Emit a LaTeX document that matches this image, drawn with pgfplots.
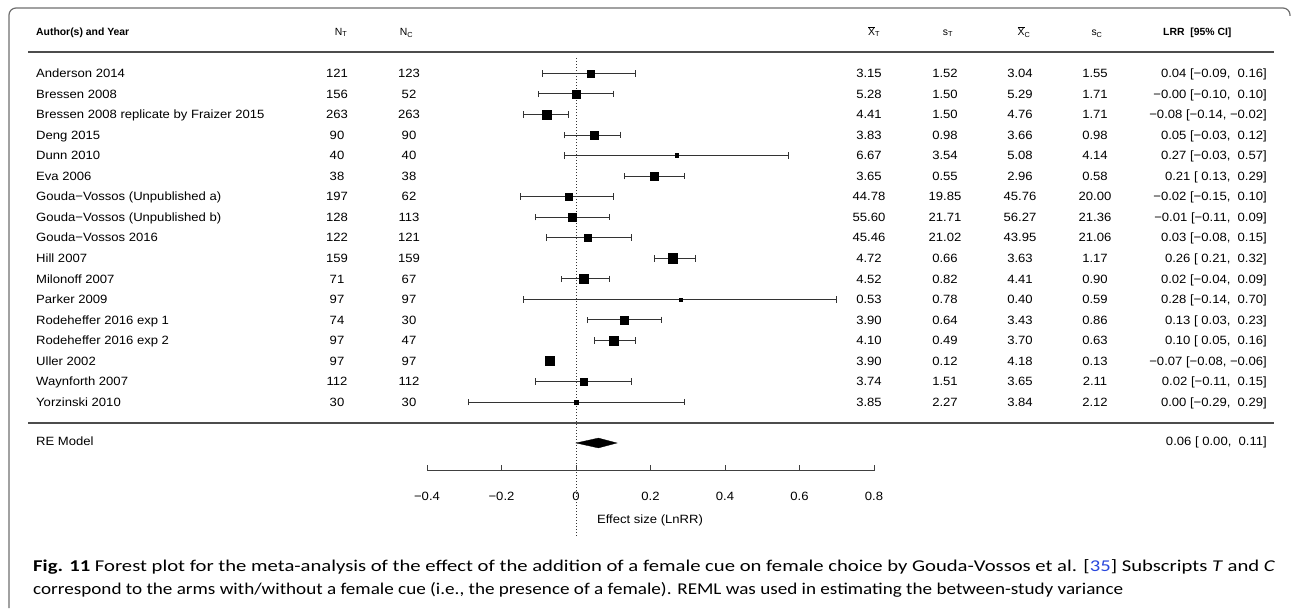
\documentclass[border=0pt]{standalone}
\usepackage{pgfplots}
\usepackage{pgfplotstable}
\pgfplotsset{compat=1.18}
\usepackage{amsmath}
\usepackage{graphicx}
\usepackage{fontspec}
\setmainfont{Liberation Sans}[FakeStretch=1.09]
\newfontfamily\hdrfont{Liberation Sans}
\newfontfamily\capfont{Carlito}
\definecolor{linkblue}{RGB}{40,70,220}
\definecolor{framegray}{RGB}{110,110,110}

% estimate, 95% CI and square half-size (pt) for each study row
\pgfplotstableread{
row est lo hi sz
1 0.04 -0.09 0.16 3.6
2 -0.00 -0.10 0.10 4.0
3 -0.08 -0.14 -0.02 4.5
4 0.05 -0.03 0.12 4.0
5 0.27 -0.03 0.57 1.9
6 0.21 0.13 0.29 4.0
7 -0.02 -0.15 0.10 3.5
8 -0.01 -0.11 0.09 4.0
9 0.03 -0.08 0.15 3.5
10 0.26 0.21 0.32 4.7
11 0.02 -0.04 0.09 4.5
12 0.28 -0.14 0.70 1.5
13 0.13 0.03 0.23 4.2
14 0.10 0.05 0.16 4.5
15 -0.07 -0.08 -0.06 4.5
16 0.02 -0.11 0.15 3.5
17 0.00 -0.29 0.29 2.0
}\studies

\newsavebox\capA
\newsavebox\capB

\newcommand\studyrow[9]{%
  \pgfmathsetmacro\yb{73.3+(#1-1)*20.55+4.3}
  \node[anchor=base west] at (36,\yb) {#2};
  \node[anchor=base] at (337,\yb) {#3};
  \node[anchor=base] at (409,\yb) {#4};
  \node[anchor=base] at (869,\yb) {#5};
  \node[anchor=base] at (945,\yb) {#6};
  \node[anchor=base] at (1020,\yb) {#7};
  \node[anchor=base] at (1095,\yb) {#8};
  \node[anchor=base east] at (1267,\yb) {#9};
}

\begin{document}
\sbox\capA{\capfont\fontsize{16.5}{19}\selectfont\textbf{Fig. 11} Forest plot for the meta-analysis of the effect of the addition of a female cue on female choice by Gouda-Vossos et al. [{\color{linkblue}35}] Subscripts \textit{T} and \textit{C}}%
\sbox\capB{\capfont\fontsize{16.5}{19}\selectfont correspond to the arms with/without a female cue (i.e., the presence of a female). REML was used in estimating the between-study variance}%
\pgfmathsetmacro\capscaleA{1242/(\the\wd\capA)}%
\pgfmathsetmacro\capscaleB{1090/(\the\wd\capB)}%
\begin{tikzpicture}[font=\fontsize{12}{14}\selectfont, every node/.style={inner sep=0pt}]
\begin{axis}[
    name=main,
    scale only axis,
    width=1292pt, height=608pt,
    xmin=-1.5463, xmax=1.9221,
    ymin=-2.567, ymax=27.02,
    y dir=reverse,
    hide axis,
    clip=false,
]
% confidence intervals
\addplot[draw=none, mark=none, forget plot,
    error bars/.cd, x dir=both, x explicit, error mark=|,
    error bar style={draw=black!80, line width=0.9pt, solid},
    error mark options={draw=black!80, line width=0.9pt, mark size=3.3pt}]
    table[x=est, y=row,
          x error plus expr=\thisrow{hi}-\thisrow{est},
          x error minus expr=\thisrow{est}-\thisrow{lo}] {\studies};
% weighted squares
\addplot[scatter, only marks, mark=square*,
    scatter/use mapped color={draw=black, fill=black},
    visualization depends on={\thisrow{sz} \as \msz},
    scatter/@pre marker code/.append style={/tikz/mark size=\msz, /tikz/line width=0.2pt}]
    table[x=est, y=row] {\studies};
% RE model diamond
\addplot[fill=black, draw=black, line width=0.3pt] coordinates
    {(0.00,18.99) (0.06,18.75) (0.11,18.99) (0.06,19.23)} -- cycle;
% reference line at zero
\draw[black!80, line width=0.8pt, dash pattern=on 0.8pt off 2.2pt]
    (axis cs:0,0.26) -- (axis cs:0,23.61);
\end{axis}

\begin{scope}[shift={(main.north west)}, x=1pt, y=-1pt]
\path (0,0) rectangle (1292,608);
% frame
\draw[framegray, line width=1.2pt, rounded corners=7pt]
    (9,608) -- (9,8) -- (1290,8) -- (1290,16);
% header
\begin{scope}[font=\hdrfont\fontsize{10.4}{12}\selectfont]
\node[anchor=base west] at (36,35.4) {\textbf{Author(s) and Year}};
\node[anchor=base] at (341,35.4) {N\textsubscript{T}};
\node[anchor=base] at (406.5,35.4) {N\textsubscript{C}};
\node[anchor=base] at (874,35.4) {$\overline{\text{X}}$\textsubscript{T}};
\node[anchor=base] at (948,35.4) {s\textsubscript{T}};
\node[anchor=base] at (1024,35.4) {$\overline{\text{X}}$\textsubscript{C}};
\node[anchor=base] at (1097,35.4) {s\textsubscript{C}};
\node[anchor=base west] at (1163,35.4) {\textbf{LRR\ \ [95\% CI]}};
\end{scope}
\draw[black!70, line width=1.2pt] (28,52) -- (1274,52);
\draw[black!70, line width=1.2pt] (28,423) -- (1274,423);

\studyrow{1}{Anderson 2014}{121}{123}{3.15}{1.52}{3.04}{1.55}{0.04 [−0.09,\ \ 0.16]}
\studyrow{2}{Bressen 2008}{156}{52}{5.28}{1.50}{5.29}{1.71}{−0.00 [−0.10,\ \ 0.10]}
\studyrow{3}{Bressen 2008 replicate by Fraizer 2015}{263}{263}{4.41}{1.50}{4.76}{1.71}{−0.08 [−0.14, −0.02]}
\studyrow{4}{Deng 2015}{90}{90}{3.83}{0.98}{3.66}{0.98}{0.05 [−0.03,\ \ 0.12]}
\studyrow{5}{Dunn 2010}{40}{40}{6.67}{3.54}{5.08}{4.14}{0.27 [−0.03,\ \ 0.57]}
\studyrow{6}{Eva 2006}{38}{38}{3.65}{0.55}{2.96}{0.58}{0.21 [\ 0.13,\ \ 0.29]}
\studyrow{7}{Gouda−Vossos (Unpublished a)}{197}{62}{44.78}{19.85}{45.76}{20.00}{−0.02 [−0.15,\ \ 0.10]}
\studyrow{8}{Gouda−Vossos (Unpublished b)}{128}{113}{55.60}{21.71}{56.27}{21.36}{−0.01 [−0.11,\ \ 0.09]}
\studyrow{9}{Gouda−Vossos 2016}{122}{121}{45.46}{21.02}{43.95}{21.06}{0.03 [−0.08,\ \ 0.15]}
\studyrow{10}{Hill 2007}{159}{159}{4.72}{0.66}{3.63}{1.17}{0.26 [\ 0.21,\ \ 0.32]}
\studyrow{11}{Milonoff 2007}{71}{67}{4.52}{0.82}{4.41}{0.90}{0.02 [−0.04,\ \ 0.09]}
\studyrow{12}{Parker 2009}{97}{97}{0.53}{0.78}{0.40}{0.59}{0.28 [−0.14,\ \ 0.70]}
\studyrow{13}{Rodeheffer 2016 exp 1}{74}{30}{3.90}{0.64}{3.43}{0.86}{0.13 [\ 0.03,\ \ 0.23]}
\studyrow{14}{Rodeheffer 2016 exp 2}{97}{47}{4.10}{0.49}{3.70}{0.63}{0.10 [\ 0.05,\ \ 0.16]}
\studyrow{15}{Uller 2002}{97}{97}{3.90}{0.12}{4.18}{0.13}{−0.07 [−0.08, −0.06]}
\studyrow{16}{Waynforth 2007}{112}{112}{3.74}{1.51}{3.65}{2.11}{0.02 [−0.11,\ \ 0.15]}
\studyrow{17}{Yorzinski 2010}{30}{30}{3.85}{2.27}{3.84}{2.12}{0.00 [−0.29,\ \ 0.29]}

\node[anchor=base west] at (36,445.8) {RE Model};
\node[anchor=base east] at (1267,445.8) {0.06 [\ 0.00,\ \ 0.11]};

% effect size axis
\draw[black!75, line width=1pt] (427,470.5) -- (874,470.5);
\foreach \px/\lab in {427/−0.4, 501.5/−0.2, 576/0, 650.5/0.2, 725/0.4, 799.5/0.6, 874/0.8} {
  \draw[black!75, line width=1pt] (\px,470.5) -- (\px,465);
  \node[anchor=base] at (\px,500.2) {\lab};
}
\node[anchor=base] at (650,523) {Effect size (LnRR)};

% caption
\node[anchor=base west] at (33,571) {\scalebox{\capscaleA}[1]{\usebox\capA}};
\node[anchor=base west] at (33,594) {\scalebox{\capscaleB}[1]{\usebox\capB}};
\end{scope}
\end{tikzpicture}
\end{document}
